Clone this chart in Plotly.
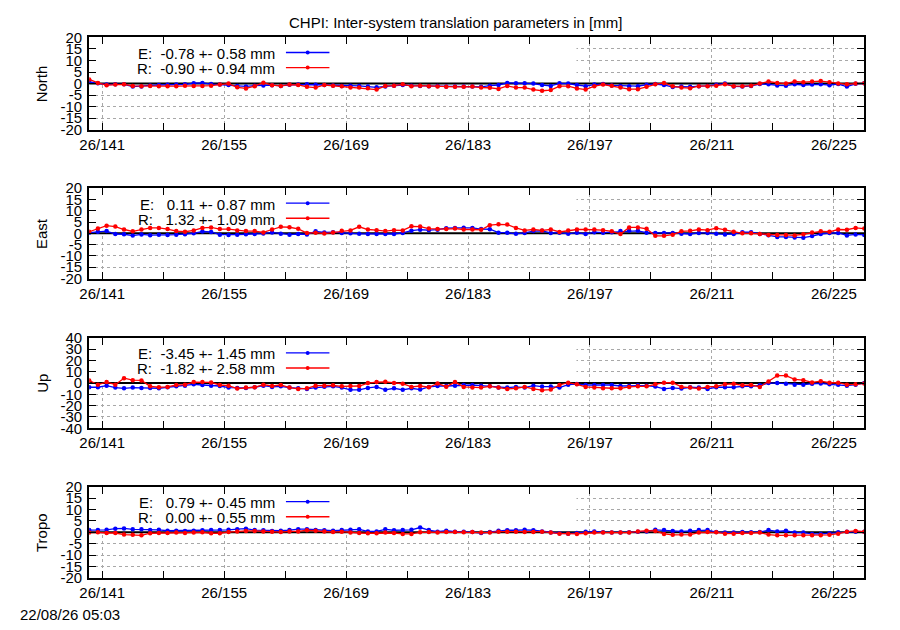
import plotly.graph_objects as go

# the page keeps the browser's 8px body margin, so the figure is 16px smaller
# than the 900x630 window and reference pixels are shifted by that margin
PAGE_M = 8
W, H = 900 - 2 * PAGE_M, 630 - 2 * PAGE_M

# daily solutions, plotted at mid-day (day of year 2026)
day = [139.5 + i for i in range(90)]
tick_days = [141, 155, 169, 183, 197, 211, 225]
tick_labels = ["26/141", "26/155", "26/169", "26/183", "26/197", "26/211", "26/225"]
minor_days = [148, 162, 176, 190, 204, 218]

north_e = [0.7, 0.2, -0.4, -0.3, -0.3, -1.3, -1.2, -0.8, -0.6, -0.5,
           -0.4, -0.3, 0.2, 0.3, -0.2, -0.4, -0.6, -1.0, -1.2, -0.9,
           -0.8, -0.7, -1.0, -0.5, -0.4, -0.3, -0.5, -0.6, -0.8, -1.0,
           -0.9, -1.0, -1.3, -1.6, -1.2, -0.9, -0.6, -0.9, -1.0, -1.1,
           -1.0, -1.2, -1.3, -1.2, -1.3, -1.4, -0.9, -0.6, 0.3, 0.1,
           0.1, 0.0, -0.6, -1.0, 0.1, 0.0, -0.6, -1.1, -0.4, -0.2,
           -0.8, -1.0, -1.1, -1.1, -0.5, -0.2, -0.6, -1.5, -1.3, -1.4,
           -1.1, -1.0, -0.5, 0.0, -1.2, -1.3, -1.0, -0.2, -0.3, -0.8,
           -0.9, -0.3, -0.6, -0.4, -0.3, -0.7, -0.2, -1.3, -0.1, 0.1]
north_r = [1.8, 0.3, -0.7, -0.4, -0.3, -1.0, -1.1, -1.0, -1.1, -1.1,
           -1.1, -0.9, -1.0, -1.0, -0.9, -0.4, 0.0, -1.6, -2.1, -1.1,
           0.4, -0.7, -1.0, -0.4, -0.6, -1.4, -1.7, -0.6, -0.9, -1.1,
           -1.7, -1.7, -2.0, -2.6, -1.0, -0.9, -0.3, -1.1, -0.9, -1.1,
           -1.3, -1.4, -1.4, -1.4, -1.3, -1.7, -1.8, -2.3, -1.0, -1.7,
           -1.7, -2.6, -3.1, -2.8, -1.1, -1.1, -2.1, -2.6, -1.1, -0.4,
           -0.9, -1.7, -2.4, -2.4, -1.4, -0.3, 0.3, -1.1, -1.7, -2.0,
           -1.1, -1.1, -0.9, -0.3, -1.1, -1.1, -0.9, 0.0, 0.9, 0.3,
           0.0, 0.9, 0.6, 0.9, 1.1, 0.6, 0.0, -0.3, 0.0, 0.1]

east_e = [0.3, 0.7, 1.0, -0.3, -0.4, -1.0, -0.5, -0.8, -0.6, -0.7,
          -0.6, -0.4, 0.0, 0.8, 0.6, -0.6, -0.7, -0.6, -0.4, -0.3,
          -0.1, 0.4, -0.2, -0.6, -0.3, -0.5, 0.9, 0.4, 0.5, 0.1,
          0.0, -0.2, -0.3, -0.3, -0.3, -0.3, 0.2, 1.2, 1.6, 1.4,
          1.6, 2.3, 2.4, 2.5, 2.4, 1.9, 1.8, 0.3, 0.3, -0.2,
          0.2, 1.0, 1.1, 0.2, 0.3, -0.2, 0.3, -0.3, 0.5, 0.3,
          0.5, 1.0, 1.2, 1.1, 0.3, 0.1, 0.2, 0.2, -0.2, -0.3,
          0.2, 0.2, -0.2, -0.5, -0.3, 0.5, 0.5, -0.3, -0.8, -1.6,
          -1.6, -1.8, -1.9, -1.2, -0.3, 0.1, 0.2, -0.9, -0.5, -0.7]
east_r = [0.7, 2.1, 3.4, 3.0, 1.7, 0.9, 1.7, 2.4, 2.4, 1.9,
          1.0, 0.7, 1.3, 2.4, 2.6, 1.9, 1.9, 1.3, 1.0, 1.0,
          0.4, 1.7, 2.9, 2.7, 2.0, 0.1, 0.3, -0.1, 0.4, 1.1,
          1.3, 2.9, 1.7, 1.4, 1.0, 1.4, 1.3, 3.1, 3.0, 2.1,
          1.9, 1.9, 2.1, 1.7, 1.7, 1.6, 3.6, 4.0, 3.9, 2.4,
          1.3, 1.7, 1.3, 1.7, 0.6, 1.3, 1.7, 1.7, 1.7, 1.4,
          0.9, -0.3, 2.6, 2.6, 2.0, -1.1, -1.1, -0.6, 0.9, 1.1,
          1.7, 1.4, 2.3, 1.6, 0.7, 0.0, 0.0, -0.3, -0.7, -0.7,
          -0.7, -0.9, -0.4, 0.4, 0.9, 0.7, 1.7, 1.6, 2.4, 2.1]

up_e = [-3.7, -3.7, -2.3, -4.0, -4.6, -4.0, -4.3, -4.3, -4.6, -3.7,
        -2.9, -2.3, -1.1, -1.7, -2.3, -2.6, -4.0, -4.3, -4.3, -3.7,
        -2.3, -3.4, -2.9, -4.0, -4.6, -5.2, -4.0, -3.2, -2.9, -4.0,
        -6.0, -6.0, -4.3, -3.4, -6.0, -4.6, -6.0, -4.6, -5.7, -3.4,
        -2.6, -2.6, -2.3, -1.7, -1.7, -2.3, -2.9, -4.0, -4.0, -3.4,
        -4.0, -2.3, -3.1, -3.1, -4.0, -1.4, -0.9, -1.7, -1.7, -1.7,
        -1.7, -2.6, -2.6, -2.0, -2.3, -3.1, -5.2, -4.3, -4.9, -3.7,
        -4.0, -5.2, -3.7, -3.7, -3.7, -2.9, -2.9, -2.0, 0.0, 0.0,
        -0.6, -1.4, -1.4, -0.6, -0.3, -1.1, -1.4, -2.3, -1.4, 0.0]
up_r = [2.3, -1.4, 0.9, -1.4, 4.3, 2.6, 2.3, -2.9, -3.7, -3.4,
        -1.7, -1.4, 0.9, 0.9, 0.6, -1.7, -2.3, -4.9, -4.0, -3.7,
        -1.4, -2.6, -1.7, -4.0, -5.2, -4.6, -2.3, -2.3, -2.0, -2.9,
        -2.6, -2.6, 0.0, 0.9, 1.1, 0.0, -0.6, -3.4, -2.6, -3.7,
        -0.3, -3.2, 0.9, -3.4, -4.0, -4.0, -2.9, -4.0, -5.2, -4.6,
        -3.4, -5.2, -6.3, -5.7, -1.7, 0.3, -1.1, -3.4, -4.0, -4.6,
        -4.6, -4.6, -3.4, -2.9, -2.9, -1.1, 0.3, 0.3, -3.4, -4.0,
        -4.9, -3.4, -2.9, -1.1, -0.6, -2.0, -1.7, -3.4, 1.4, 6.6,
        6.6, 3.2, 2.6, 0.6, 1.7, 0.3, 0.3, -1.4, -1.1, -0.3]

tropo_e = [1.0, 1.0, 1.1, 1.6, 1.7, 1.3, 1.3, 1.0, 1.1, 0.7,
           0.7, 0.6, 0.7, 0.9, 1.0, 1.0, 1.1, 1.4, 1.6, 1.0,
           0.9, 0.6, 0.7, 1.0, 1.4, 1.4, 1.0, 0.9, 0.7, 1.0,
           1.1, 1.3, 0.4, 0.4, 1.3, 0.9, 1.0, 1.1, 2.1, 1.0,
           0.3, 0.7, 0.3, 0.3, 0.1, -0.3, 0.1, 0.7, 0.9, 0.9,
           1.1, 0.9, 0.4, -0.1, -0.4, -0.6, -0.3, 0.3, 0.4, 0.0,
           -0.1, -0.1, 0.0, 0.3, 0.4, 1.1, 1.0, 0.6, 0.4, 0.7,
           1.0, 1.0, 0.1, -0.1, -0.1, 0.1, 0.0, 0.1, 1.0, 0.4,
           0.7, -0.1, -0.1, -0.7, -0.7, -0.4, 0.0, 0.3, 0.3, 0.3]
tropo_r = [-0.1, 0.0, -0.3, -0.3, -1.0, -1.1, -1.3, -0.4, -0.3, -0.3,
           -0.1, -0.3, -0.1, 0.0, -0.4, -0.4, 0.1, 0.4, 0.6, 0.6,
           0.4, 0.3, 0.1, 0.4, 0.4, 0.9, 0.7, 0.4, 0.1, 0.3,
           -0.1, -0.3, -0.4, -0.4, -0.1, -0.3, -0.7, -0.7, 0.0, 0.1,
           -0.1, 0.1, 0.1, 0.0, 0.1, -0.1, -0.1, 0.3, 0.3, 0.3,
           0.1, 0.1, 0.3, -0.1, -0.6, -0.6, -0.7, -0.4, -0.1, -0.1,
           -0.1, -0.1, -0.1, 0.4, 0.7, 0.6, -0.7, -1.1, -1.0, -1.0,
           -0.1, 0.1, 0.0, -0.6, -0.6, -0.3, -0.3, -0.1, -1.0, -1.3,
           -1.3, -1.3, -1.3, -1.3, -1.3, -1.1, -0.6, 0.3, 0.6, 0.3]

panels = [
    ("North", north_e, north_r, "-0.78 +- 0.58", "-0.90 +- 0.94", 20, 5, (29, 124)),
    ("East", east_e, east_r, " 0.11 +- 0.87", " 1.32 +- 1.09", 20, 5, (184, 277)),
    ("Up", up_e, up_r, "-3.45 +- 1.45", "-1.82 +- 2.58", 40, 10, (338, 431)),
    ("Tropo", tropo_e, tropo_r, " 0.79 +- 0.45", " 0.00 +- 0.55", 20, 5, (491, 585)),
]

FONT = "Liberation Sans, Arial, sans-serif"
FS = 15
BLUE = "#0000ff"
RED = "#ff0000"


# window pixel -> paper fraction
def px(x):
    return (x - PAGE_M) / W


def py(y):
    return 1 - (y - PAGE_M) / H


fig = go.Figure()
shapes = []
annotations = []
layout = {}

for k, (name, ser_e, ser_r, txt_e, txt_r, lim, step, (top, bot)) in enumerate(panels):
    n = "" if k == 0 else str(k + 1)
    xa, ya = "x" + n, "y" + n

    for ser, col in ((ser_e, BLUE), (ser_r, RED)):
        fig.add_trace(go.Scatter(
            x=day, y=ser, xaxis=xa, yaxis=ya, mode="lines+markers",
            line=dict(color=col, width=1.3),
            marker=dict(color=col, size=4.5, symbol="circle"),
            showlegend=False, hoverinfo="skip"))

    yt = list(range(-lim, lim + 1, step))
    layout["xaxis" + n] = dict(
        domain=[px(80), px(864)], anchor=ya, range=[139.5, 228.5],
        tickmode="array", tickvals=tick_days, ticktext=tick_labels,
        ticks="inside", ticklen=7, tickcolor="black", mirror="ticks",
        showline=True, linecolor="black", linewidth=2,
        showgrid=True, gridcolor="#a8a8a8", griddash="dot", gridwidth=1,
        zeroline=False, tickfont=dict(family=FONT, size=FS, color="black"),
        minor=dict(tickmode="array", tickvals=minor_days, ticks="inside",
                   ticklen=7, tickcolor="black", showgrid=False),
        fixedrange=True)
    layout["yaxis" + n] = dict(
        domain=[py(bot), py(top)], anchor=xa, range=[-lim, lim],
        tickmode="array", tickvals=yt, ticktext=[str(v) for v in yt],
        ticks="inside", ticklen=7, tickcolor="black", mirror="ticks",
        showline=True, linecolor="black", linewidth=2,
        showgrid=True, gridcolor="#a8a8a8", griddash="dot", gridwidth=1,
        zeroline=False, tickfont=dict(family=FONT, size=FS, color="black"),
        ticklabelstandoff=2, fixedrange=True)

    # opaque key area hides the grid behind it
    shapes.append(dict(type="rect", xref=xa, yref=ya, x0=139.5, x1=195.45,
                       y0=0.15 * step / 5, y1=lim, fillcolor="white",
                       line=dict(width=0), layer="between"))
    shapes.append(dict(type="line", xref=xa, yref=ya, x0=139.5, x1=228.5,
                       y0=0, y1=0, line=dict(color="black", width=2),
                       layer="between"))

    # y label
    annotations.append(dict(text=name, xref="paper", yref="paper",
                            x=px(32), y=py((top + bot) / 2), textangle=-90,
                            showarrow=False, xanchor="center", yanchor="middle",
                            font=dict(family=FONT, size=FS, color="black")))

    # key
    for row, (lab, txt, col) in enumerate((("E:", txt_e, BLUE), ("R:", txt_r, RED))):
        yy = top + 15.5 + 15.5 * row
        annotations.append(dict(
            text=(lab + "  " + txt + " mm").replace(" ", "\u00a0"),
            xref="paper", yref="paper", x=px(270), y=py(yy + 1),
            xanchor="right", yanchor="middle", showarrow=False,
            font=dict(family=FONT, size=FS, color="black")))
        shapes.append(dict(type="line", xref="paper", yref="paper",
                           x0=px(279), x1=px(323), y0=py(yy), y1=py(yy),
                           line=dict(color=col, width=1.3)))
        shapes.append(dict(type="circle", xref="paper", yref="paper",
                           x0=px(299), x1=px(303), y0=py(yy + 2), y1=py(yy - 2),
                           fillcolor=col, line=dict(color=col, width=0)))

annotations.append(dict(text="CHPI: Inter-system translation parameters in [mm]",
                        xref="paper", yref="paper", x=px(450), y=py(14),
                        xanchor="center", yanchor="middle", showarrow=False,
                        font=dict(family=FONT, size=FS, color="black")))
annotations.append(dict(text="22/08/26 05:03", xref="paper", yref="paper",
                        x=px(8), y=py(622), xanchor="left", yanchor="middle",
                        showarrow=False,
                        font=dict(family=FONT, size=FS, color="black")))

fig.update_layout(
    width=W, height=H, margin=dict(l=0, r=0, t=0, b=0),
    paper_bgcolor="white", plot_bgcolor="white",
    shapes=shapes, annotations=annotations, showlegend=False,
    **layout)

fig.write_html("out.html", config={"displayModeBar": False})
